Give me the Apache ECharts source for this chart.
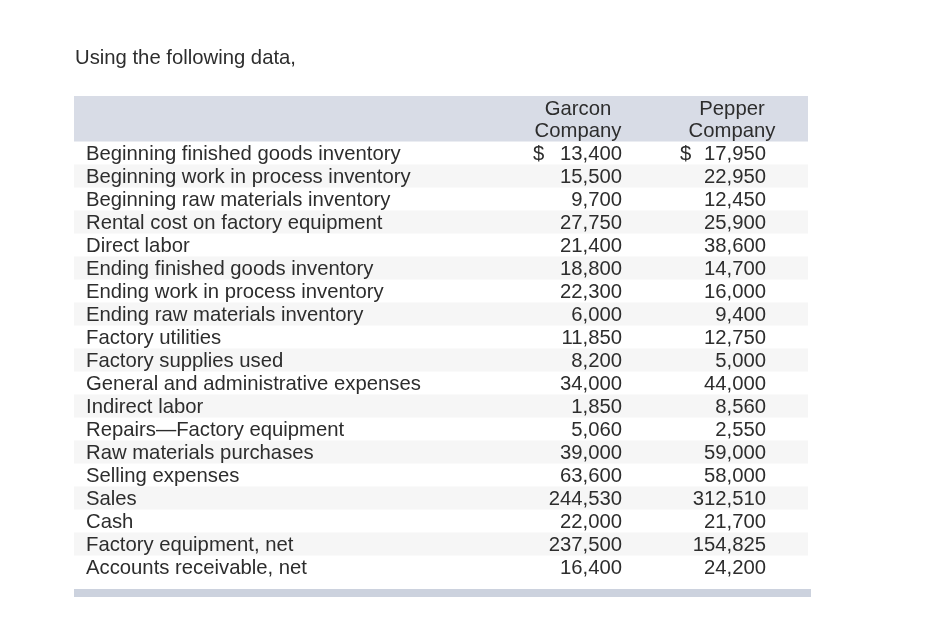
<!DOCTYPE html>
<html>
<head>
<meta charset="UTF-8">
<title>Using the following data</title>
<script src="https://cdn.jsdelivr.net/npm/echarts@6/dist/echarts.min.js"></script>
<style>
	html, body{
		margin:0;
		padding:0;
		background:#ffffff;
	}
	#table{
		width:943px;
		height:633px;
	}
</style>
</head>
<body>
	<div id="table"></div>
<script>
	var title = "Using the following data,";
	var companies = ["Garcon\nCompany", "Pepper\nCompany"];
	var items = [
		"Beginning finished goods inventory",
		"Beginning work in process inventory",
		"Beginning raw materials inventory",
		"Rental cost on factory equipment",
		"Direct labor",
		"Ending finished goods inventory",
		"Ending work in process inventory",
		"Ending raw materials inventory",
		"Factory utilities",
		"Factory supplies used",
		"General and administrative expenses",
		"Indirect labor",
		"Repairs\u2014Factory equipment",
		"Raw materials purchases",
		"Selling expenses",
		"Sales",
		"Cash",
		"Factory equipment, net",
		"Accounts receivable, net"
	];
	var garcon = [13400, 15500, 9700, 27750, 21400, 18800, 22300, 6000, 11850, 8200,
		34000, 1850, 5060, 39000, 63600, 244530, 22000, 237500, 16400];
	var pepper = [17950, 22950, 12450, 25900, 38600, 14700, 16000, 9400, 12750, 5000,
		44000, 8560, 2550, 59000, 58000, 312510, 21700, 154825, 24200];

	var FONT = '20.3px Arial, "Liberation Sans", sans-serif';
	var TXT = "#2d2d2d";

	var myChart = echarts.init(document.getElementById("table"));

	/*每行: x占位, 行号, 两家公司的数值*/
	var rows = [];
	for(var i=0;i<items.length;i++){
		rows.push([0, i, garcon[i], pepper[i]]);
	}

	function fmt(v){
		return v.toLocaleString("en-US");
	}

	function cellText(text, x, y, align){
		return {
			type:"text",
			style:{text:text, x:x, y:y, align:align, verticalAlign:"middle", font:FONT, fill:TXT}
		};
	}

	function renderRow(params, api){
		var idx = api.value(1);
		var y = api.coord([0, idx])[1];
		var h = api.size([0, 1])[1];
		var ty = y + 1.2;
		var children = [];
		if(idx % 2 === 1){
			children.push({
				type:"rect",
				shape:{x:74, y:y - h / 2, width:734, height:h},
				style:{fill:"#f6f6f6"},
				silent:true
			});
		}
		children.push(cellText(items[idx], 86, ty, "left"));
		children.push(cellText(fmt(api.value(2)), 622, ty, "right"));
		children.push(cellText(fmt(api.value(3)), 766, ty, "right"));
		if(idx === 0){
			children.push(cellText("$", 533, ty, "left"));
			children.push(cellText("$", 680, ty, "left"));
		}
		return {type:"group", children:children};
	}

	var option = {
		animation:false,
		backgroundColor:"#ffffff",
		grid:{left:0, right:0, top:141.5, height:437},
		xAxis:{type:"value", min:0, max:943, show:false},
		yAxis:{type:"category", data:items, inverse:true, show:false},
		graphic:[
			{type:"text", left:75, top:48.5,
				style:{text:title, font:FONT, fill:TXT}},
			{type:"rect", shape:{x:74, y:96, width:734, height:45.5},
				style:{fill:"#d8dce6"}, z:-1},
			{type:"text", x:578, y:120.5,
				style:{text:companies[0], align:"center", verticalAlign:"middle",
					font:FONT, fill:TXT, lineHeight:22.5}},
			{type:"text", x:732, y:120.5,
				style:{text:companies[1], align:"center", verticalAlign:"middle",
					font:FONT, fill:TXT, lineHeight:22.5}},
			{type:"rect", shape:{x:74, y:589, width:737, height:8},
				style:{fill:"#ccd2de"}}
		],
		series:[{
			type:"custom",
			coordinateSystem:"cartesian2d",
			encode:{x:0, y:1},
			data:rows,
			renderItem:renderRow
		}]
	};
	myChart.setOption(option);
</script>
</body>
</html>
